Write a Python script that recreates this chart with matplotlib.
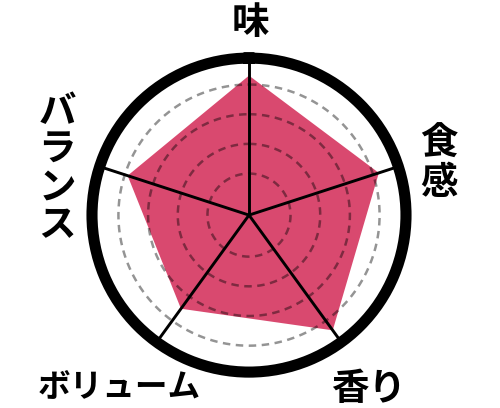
import numpy as np
import matplotlib
matplotlib.use("Agg")
import matplotlib.pyplot as plt

plt.rcParams['font.family'] = ['Noto Sans CJK JP', 'DejaVu Sans']

labels = ['味', '食感', '香り', 'ボリューム', 'バランス']
values = [4.3, 4.2, 4.4, 3.5, 3.9]
levels = [1, 2, 3, 4]
r_min, r_max = -0.4, 4.89

fig = plt.figure(figsize=(5, 4.08), dpi=100)
ax = fig.add_axes([0.184, 0.088, 0.628, 0.7696], projection='polar')
ax.set_theta_offset(np.pi / 2)
ax.set_theta_direction(-1)

ang = np.linspace(0, 2 * np.pi, len(labels), endpoint=False)
ax.fill(np.append(ang, ang[0]), values + values[:1], color='#d9496f', lw=0, zorder=2)

# dashed rings drawn over the fill
t = np.linspace(0, 2 * np.pi, 361)
for lv in levels:
    ax.plot(t, np.full_like(t, lv), color='black', alpha=0.42, lw=1.8,
            dashes=(3.0, 2.2), zorder=3)

# spokes
for a in ang:
    ax.plot([a, a], [r_min, r_max], color='black', lw=2.1, zorder=4,
            solid_capstyle='butt')

ax.set_ylim(r_min, r_max)
ax.set_xticks([])
ax.set_yticks([])
ax.grid(False)
ax.spines['polar'].set_linewidth(8)
ax.spines['polar'].set_color('black')

fs = 27
kw = dict(fontsize=fs, fontweight='bold', ha='center', va='center')
fig.text(0.500, 0.946, labels[0], **kw)
fig.text(0.878, 0.600, '\n'.join(labels[1]), linespacing=1.0, **kw)
fig.text(0.738, 0.049, labels[2], **kw)
fig.text(0.238, 0.049, labels[3], fontsize=23.5, fontweight='bold',
         ha='center', va='center')
fig.text(0.114, 0.588, '\n'.join(labels[4]), linespacing=0.95, **kw)

fig.savefig('out.png', dpi=100)
